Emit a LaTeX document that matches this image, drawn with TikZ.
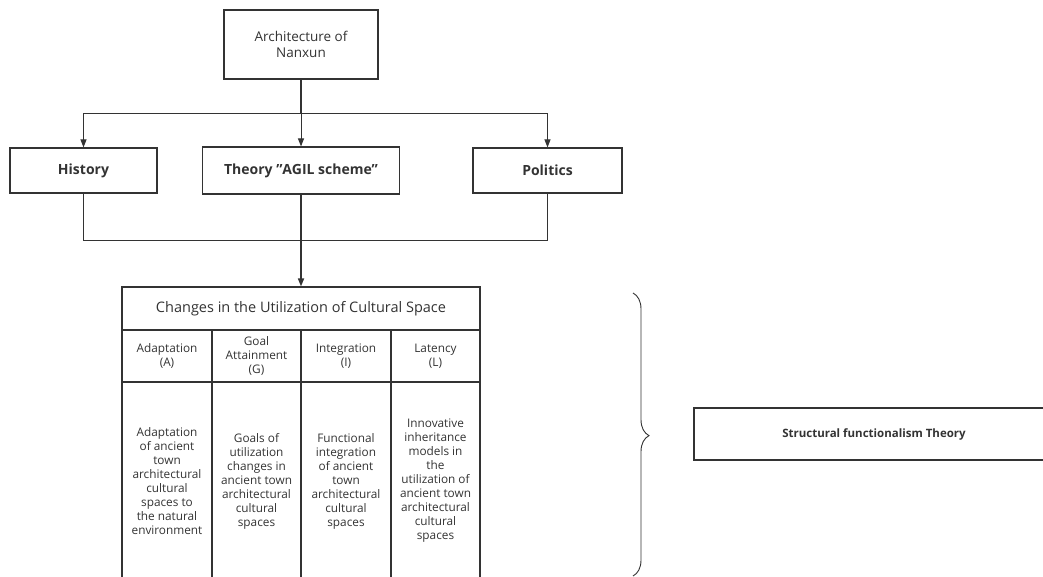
\documentclass[tikz,border=0pt]{standalone}
\usepackage{fontspec}
\setmainfont{Open Sans}
\usetikzlibrary{arrows.meta,decorations.pathreplacing}
\definecolor{ink}{HTML}{333333}
\tikzset{
    box/.style={draw=ink,line width=1.1pt,text=ink,align=center,inner sep=2pt,font=\fontsize{13.5}{16}\selectfont},
    bbox/.style={box,font=\fontsize{14}{16}\bfseries\selectfont},
    cell/.style={box,font=\fontsize{11.8}{14}\selectfont},
    edge/.style={draw=ink,line width=1pt,-{Triangle[length=8pt,width=6pt]}},
    link/.style={draw=ink,line width=0.9pt}
}

\begin{document}
\begin{tikzpicture}[x=1pt,y=-1pt]
\useasboundingbox (0,0) rectangle (1043,577);
\node[box,minimum width=154pt,minimum height=69pt] (arch) at (301,44.5) {Architecture of\\Nanxun};
\node[bbox,minimum width=147pt,minimum height=45pt] (hist) at (83.5,170.5) {History};
\node[bbox,minimum width=197pt,minimum height=47pt] (theory) at (301,170.5) {Theory \symbol{34}AGIL scheme\symbol{34}};
\node[bbox,minimum width=149pt,minimum height=45pt] (pol) at (547.5,170.5) {Politics};
\coordinate (fork) at (301,114);
\coordinate (join) at (301,240);

% table
\node[box,font=\fontsize{14.5}{16}\selectfont,minimum width=358pt,minimum height=43pt] (title) at (301,308.5) {Changes in the Utilization of Cultural Space};
\node[cell,minimum width=90pt,minimum height=52pt] (hA) at (167,356) {Adaptation\\(A)};
\node[cell,minimum width=89pt,minimum height=52pt] (hG) at (256.5,356) {Goal\\Attainment\\(G)};
\node[cell,minimum width=90pt,minimum height=52pt] (hI) at (346,356) {Integration\\(I)};
\node[cell,minimum width=89pt,minimum height=52pt] (hL) at (435.5,356) {Latency\\(L)};
\node[cell,minimum width=90pt,minimum height=198pt] (bA) at (167,481) {Adaptation\\of ancient\\town\\architectural\\cultural\\spaces to\\the natural\\environment};
\node[cell,minimum width=89pt,minimum height=198pt] (bG) at (256.5,481) {Goals of\\utilization\\changes in\\ancient town\\architectural\\cultural\\spaces};
\node[cell,minimum width=90pt,minimum height=198pt] (bI) at (346,481) {Functional\\integration\\of ancient\\town\\architectural\\cultural\\spaces};
\node[cell,minimum width=89pt,minimum height=198pt] (bL) at (435.5,481) {Innovative\\inheritance\\models in\\the\\utilization of\\ancient town\\architectural\\cultural\\spaces};

\node[box,font=\fontsize{11.5}{13}\bfseries\selectfont,minimum width=360pt,minimum height=52pt] (sft) at (874,434) {Structural functionalism Theory};

\draw[link,line width=1.6pt] (arch) -- (fork);
\draw[edge] (fork) -| (hist);
\draw[edge] (fork) -| (pol);
\draw[edge] (fork) -- (theory);
\draw[link] (hist) |- (join);
\draw[link] (pol) |- (join);
\draw[edge,line width=1.6pt] (theory) -- (title);

\draw[link,decorate,decoration={brace,amplitude=16pt,aspect=0.504}] (633,293) -- (633,576);
\end{tikzpicture}
\end{document}
